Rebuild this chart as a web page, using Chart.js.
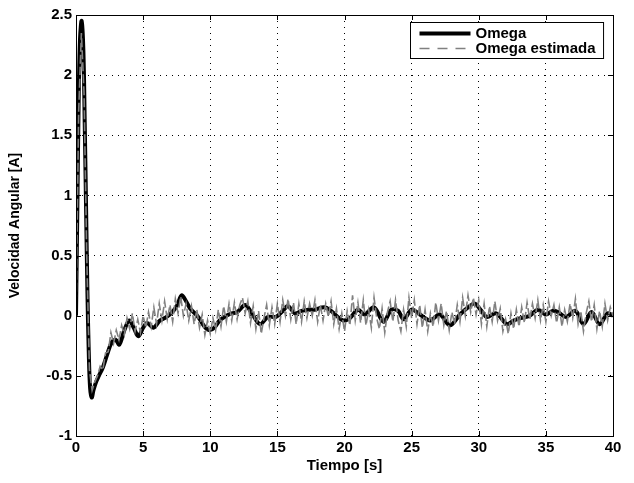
<!DOCTYPE html>
<html>
<head>
<meta charset="utf-8">
<script src="https://cdn.jsdelivr.net/npm/chart.js@4.4.1/dist/chart.umd.min.js"></script>
<style>
  html, body { margin: 0; padding: 0; background: #fff; }
  #wrap { width: 634px; height: 483px; }
</style>
</head>
<body>
<div id="wrap"><canvas id="chart" width="634" height="483"></canvas></div>
<script>
const omegaT = [0, 0.1, 0.2, 0.3, 0.42, 0.55, 0.65, 0.75, 0.85, 0.95, 1.05, 1.17, 1.3, 1.5, 1.7, 2.0, 2.3, 2.66, 2.95, 3.23,
  3.6, 3.97, 4.3, 4.64, 5.0, 5.3, 5.76, 6.25, 6.75, 7.25, 7.55, 7.87, 8.2, 8.5, 9.1, 9.5, 9.9, 10.3, 10.7, 11.2,
  11.6, 12.0, 12.6, 13.1, 13.7, 14.3, 14.9, 15.4, 15.8, 16.3, 16.8, 17.3, 17.8, 18.5, 19.0, 19.4, 19.9, 20.4, 21.0, 21.5,
  22.2, 22.9, 23.5, 24.0, 24.4, 25.0, 25.5, 26.0, 26.4, 27.1, 27.85, 28.6, 29.2, 29.7, 30.2, 30.6, 31.3, 32.1, 32.6, 33.1,
  33.8, 34.4, 35.0, 35.5, 35.9, 36.5, 37.2, 37.8, 38.4, 39.0, 39.6, 40];
const omegaV = [0, 0.9, 1.8, 2.3, 2.45, 2.2, 1.6, 0.9, 0.2, -0.3, -0.6, -0.68, -0.62, -0.55, -0.5, -0.43, -0.33, -0.22, -0.2, -0.24,
  -0.12, -0.04, -0.1, -0.17, -0.1, -0.06, -0.1, -0.04, -0.01, 0.04, 0.09, 0.17, 0.12, 0.06, -0.01, -0.08, -0.12, -0.1, -0.04, 0.0,
  0.02, 0.03, 0.09, 0.02, -0.07, -0.01, -0.01, 0.04, 0.08, 0.02, 0.04, 0.05, 0.05, 0.07, 0.04, 0.0, -0.04, -0.02, 0.05, 0.01,
  0.07, -0.05, 0.05, 0.04, -0.03, 0.05, 0.02, -0.02, -0.04, 0.01, -0.08, 0.01, 0.07, 0.10, 0.04, -0.01, 0.02, -0.07, -0.04, -0.02,
  0.0, 0.05, 0.01, 0.04, 0.03, -0.01, 0.04, -0.07, 0.03, -0.07, 0.02, 0.0];

// estimated omega, one value every estStep seconds
const estStep = 0.2;
const estimadaV = [
  0, 1.7, 2.35, 1.85, 0.5, -0.45, -0.62, -0.55, -0.5, -0.42,
  -0.45, -0.31, -0.3, -0.14, -0.23, -0.12, -0.2, -0.08, -0.16, -0.02,
  -0.11, 0.02, -0.13, -0.03, -0.14, 0.0, -0.1, 0.03, -0.09, 0.07,
  -0.07, 0.1, -0.04, 0.12, -0.03, 0.09, -0.05, 0.14, 0.02, 0.16,
  0.0, 0.1, -0.04, 0.08, -0.07, 0.05, -0.1, 0.01, -0.16, -0.04,
  -0.15, -0.02, -0.12, 0.05, -0.09, 0.08, -0.05, 0.1, -0.04, 0.11,
  -0.03, 0.09, 0.15, 0.02, 0.12, -0.06, 0.08, -0.11, 0.04, -0.15,
  -0.02, 0.09, -0.08, 0.07, -0.07, 0.1, -0.05, 0.13, 0.0, 0.14,
  -0.03, 0.11, -0.07, 0.1, -0.05, 0.12, -0.02, 0.1, 0.0, 0.13,
  -0.05, 0.09, -0.04, 0.1, -0.01, 0.12, -0.07, 0.06, -0.11, 0.02,
  -0.13, 0.04, -0.08, 0.17, -0.04, 0.11, -0.06, 0.13, -0.08, 0.05,
  -0.1, 0.15, -0.02, -0.11, 0.06, -0.14, 0.03, 0.12, -0.05, 0.13,
  -0.04, -0.13, 0.05, -0.09, 0.15, -0.02, 0.13, -0.07, 0.09, -0.1,
  0.05, -0.13, 0.02, -0.09, 0.11, -0.04, 0.1, -0.08, 0.04, -0.12,
  0.03, -0.07, 0.09, -0.05, 0.15, 0.0, 0.17, 0.03, 0.15, 0.01,
  0.13, -0.07, 0.1, -0.09, 0.08, -0.05, 0.12, -0.04, 0.06, -0.13,
  -0.03, -0.15, 0.02, -0.11, 0.05, -0.09, 0.07, -0.06, 0.11, -0.03,
  0.1, -0.02, 0.13, -0.04, 0.09, -0.05, 0.12, 0.0, 0.09, -0.06,
  0.07, -0.09, 0.05, -0.05, 0.1, -0.02, 0.14, -0.07, 0.04, -0.13,
  0.02, 0.12, -0.05, 0.09, -0.11, 0.04, -0.09, 0.1, -0.04, 0.07,
  0.0];

const legendLabels = ['Omega', 'Omega estimada'];
const xTitle = 'Tiempo [s]';
const yTitle = 'Velocidad Angular [A]';

const FONT = 'Liberation Sans';

// MATLAB style box with inward ticks + legend inside the axes
const matlabBox = {
  id: 'matlabBox',
  afterDraw(chart) {
    const ctx = chart.ctx;
    const a = chart.chartArea;
    const xs = chart.scales.x, ys = chart.scales.y;
    const tl = 5;
    ctx.save();
    ctx.strokeStyle = '#000';
    ctx.lineWidth = 1;
    ctx.setLineDash([]);
    ctx.beginPath();
    xs.ticks.forEach(t => {
      const px = Math.round(xs.getPixelForValue(t.value)) + 0.5;
      ctx.moveTo(px, a.bottom); ctx.lineTo(px, a.bottom - tl);
      ctx.moveTo(px, a.top); ctx.lineTo(px, a.top + tl);
    });
    ys.ticks.forEach(t => {
      const py = Math.round(ys.getPixelForValue(t.value)) + 0.5;
      ctx.moveTo(a.left, py); ctx.lineTo(a.left + tl, py);
      ctx.moveTo(a.right, py); ctx.lineTo(a.right - tl, py);
    });
    ctx.stroke();
    ctx.strokeRect(Math.round(a.left) + 0.5, Math.round(a.top) + 0.5,
      Math.round(a.right - a.left), Math.round(a.bottom - a.top));

    // legend
    ctx.font = 'bold 15px "' + FONT + '"';
    const textW = Math.max(...legendLabels.map(s => ctx.measureText(s).width));
    const lineLen = 51;
    const bw = 9 + lineLen + 5 + textW + 8;
    const bh = 36;
    const bx = Math.round(a.right - 10 - bw) + 0.5;
    const by = Math.round(a.top + 7) + 0.5;
    ctx.fillStyle = '#fff';
    ctx.fillRect(bx, by, bw, bh);
    ctx.strokeRect(bx, by, bw, bh);
    const order = [1, 0];
    order.forEach((di, i) => {
      const ds = chart.data.datasets[di];
      const cy = by + 11 + i * 15;
      ctx.beginPath();
      ctx.strokeStyle = ds.borderColor;
      ctx.lineWidth = ds.borderWidth;
      ctx.setLineDash(di === 0 ? [10, 8] : []);
      ctx.moveTo(bx + 9, cy);
      ctx.lineTo(bx + 9 + lineLen, cy);
      ctx.stroke();
      ctx.setLineDash([]);
      ctx.fillStyle = '#000';
      ctx.textBaseline = 'middle';
      ctx.textAlign = 'left';
      ctx.fillText(legendLabels[i], bx + 9 + lineLen + 5, cy);
    });
    ctx.restore();
  }
};

const omegaData = omegaT.map((t, i) => ({ x: t, y: omegaV[i] }));
const estimadaData = estimadaV.map((v, i) => ({ x: i * estStep, y: v }));

new Chart(document.getElementById('chart'), {
  type: 'line',
  data: {
    datasets: [
      {
        label: legendLabels[1],
        data: estimadaData,
        borderColor: '#808080',
        borderWidth: 1.6,
        borderDash: [9, 3],
        pointRadius: 0,
        tension: 0,
        fill: false,
        order: 0
      },
      {
        label: legendLabels[0],
        data: omegaData,
        borderColor: '#000000',
        borderWidth: 4,
        pointRadius: 0,
        tension: 0.35,
        fill: false,
        order: 1
      }
    ]
  },
  options: {
    responsive: false,
    animation: false,
    layout: { padding: { left: 0, top: 15, right: 21, bottom: 0 } },
    plugins: {
      legend: { display: false },
      tooltip: { enabled: false }
    },
    scales: {
      x: {
        type: 'linear',
        min: 0,
        max: 40,
        afterFit: s => { s.height = 47; },
        ticks: {
          stepSize: 5,
          color: '#000',
          padding: 3,
          maxRotation: 0,
          callback: v => String(v),
          font: { family: FONT, size: 15, weight: 'bold' }
        },
        grid: { color: '#000', lineWidth: 1, drawTicks: false },
        border: { display: false, dash: [1, 5] },
        title: {
          display: true,
          text: xTitle,
          color: '#000',
          padding: { top: 0, bottom: 8 },
          font: { family: FONT, size: 15, weight: 'bold' }
        }
      },
      y: {
        type: 'linear',
        min: -1,
        max: 2.5,
        afterFit: s => { s.width = 76; },
        ticks: {
          stepSize: 0.5,
          color: '#000',
          padding: 4,
          callback: v => String(v),
          font: { family: FONT, size: 15, weight: 'bold' }
        },
        grid: { color: '#000', lineWidth: 1, drawTicks: false },
        border: { display: false, dash: [1, 5] },
        title: {
          display: true,
          text: yTitle,
          color: '#000',
          padding: { top: 7, bottom: 0 },
          font: { family: FONT, size: 14, weight: 'bold' }
        }
      }
    }
  },
  plugins: [matlabBox]
});
</script>
</body>
</html>
